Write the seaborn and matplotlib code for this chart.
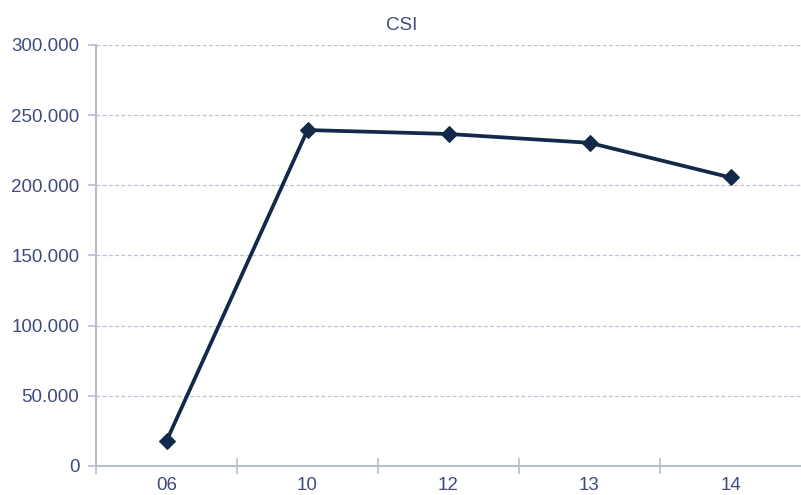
import matplotlib
matplotlib.use("Agg")
import matplotlib.pyplot as plt
import seaborn as sns
import pandas as pd
from matplotlib.ticker import FuncFormatter, FixedLocator

categories = ["06", "10", "12", "13", "14"]
values = [17800, 239400, 236600, 230300, 205600]

sns.set_style("white")
plt.rcParams['font.family'] = ['Liberation Sans', 'DejaVu Sans']

df = pd.DataFrame({"year": categories, "csi": values})

fig = plt.figure(figsize=(8.01, 4.95), dpi=100)
ax = fig.add_axes([96/801, 1-466/495, 1-96/801, (466-45)/495])

axis_col = "#b7bccf"
text_col = "#3f4b7c"
line_col = "#13294b"

sns.lineplot(data=df, x="year", y="csi", ax=ax, sort=False, color=line_col,
             linewidth=2.7, marker="D", markersize=8, markeredgecolor=line_col,
             markerfacecolor=line_col, zorder=3)

ax.set_ylim(0, 300000)
ax.set_xlim(-0.5, len(categories) - 0.5)
ax.yaxis.set_major_locator(FixedLocator([0, 50000, 100000, 150000, 200000, 250000, 300000]))

def fmt(v, pos):
    if v == 0:
        return "0"
    return f"{int(v):,}".replace(",", ".")

ax.yaxis.set_major_formatter(FuncFormatter(fmt))
ax.yaxis.grid(True, linestyle=(0, (3, 2)), color="#bcc1d6", linewidth=0.9)
ax.set_axisbelow(True)

for s in ["top", "right"]:
    ax.spines[s].set_visible(False)
for s in ["left", "bottom"]:
    ax.spines[s].set_color(axis_col)
    ax.spines[s].set_linewidth(1.5)

ax.set_xlabel("")
ax.set_ylabel("")
fig.text(402/801, 1-25/495, "CSI", fontsize=13.5, color=text_col,
         ha="center", va="center")

ax.tick_params(axis="y", which="major", length=6, width=1.2, color=axis_col,
               labelsize=13.5, labelcolor=text_col, pad=6, left=True)
ax.tick_params(axis="x", which="major", length=0, labelsize=13.5,
               labelcolor=text_col, pad=8)
ax.set_xticks([i + 0.5 for i in range(-1, len(categories) - 1)], minor=True)
ax.tick_params(axis="x", which="minor", length=12, width=1.2, color=axis_col,
               direction="inout", bottom=True)

fig.savefig("out.png", dpi=100)
